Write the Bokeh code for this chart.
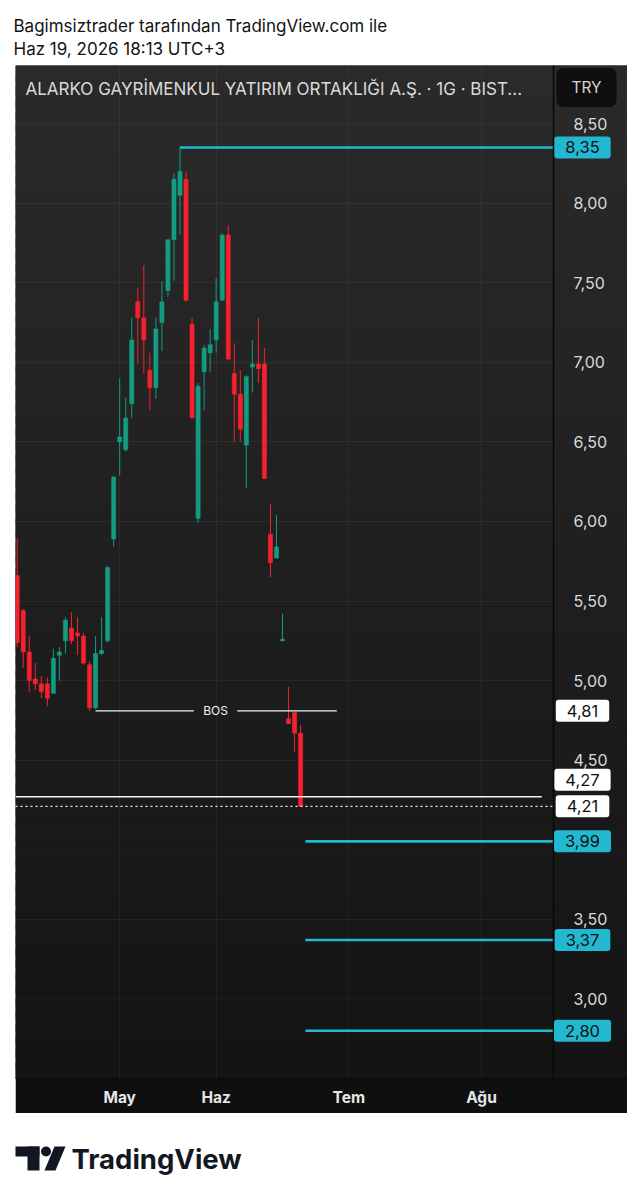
import numpy as np
from bokeh.plotting import figure
from bokeh.models import (Range1d, FixedTicker, Label, BoxAnnotation,
                          ColumnDataSource, CustomJSTickFormatter, Spacer)
from bokeh.layouts import column, row
from bokeh.embed import file_html
from bokeh.resources import INLINE
from bokeh.core.properties import value

# ---------------- data ----------------
opens  = [5.66, 5.44, 5.18, 5.01, 4.98, 4.98, 4.92, 5.16, 5.25, 5.33, 5.30, 5.28,
          5.10, 4.83, 5.17, 5.25, 5.89, 6.50, 6.45, 6.74, 7.38, 7.28, 6.95, 6.84,
          7.25, 7.45, 7.77, 8.05, 8.15, 7.24, 6.02, 6.94, 7.06, 7.14, 7.39, 7.80,
          6.93, 6.80, 6.48, 6.97, 6.99, 6.99, 5.92, 5.77, 5.25, 4.76, 4.80, 4.67]
highs  = [5.89, 5.45, 5.28, 5.11, 5.03, 5.02, 5.20, 5.21, 5.40, 5.43, 5.40, 5.30,
          5.12, 5.28, 5.40, 5.72, 6.28, 6.90, 6.78, 7.28, 7.47, 7.61, 7.06, 7.28,
          7.51, 7.77, 8.19, 8.35, 8.20, 7.28, 6.87, 7.11, 7.21, 7.53, 7.81, 7.86,
          7.12, 6.95, 6.92, 7.14, 7.28, 7.09, 6.11, 6.04, 5.42, 4.96, 4.80, 4.72]
lows   = [5.21, 5.08, 4.93, 4.94, 4.89, 4.84, 4.92, 5.00, 5.17, 5.23, 5.16, 5.10,
          4.81, 4.82, 5.16, 5.24, 5.84, 6.29, 6.44, 6.65, 6.99, 6.93, 6.70, 6.77,
          7.07, 7.41, 7.51, 7.80, 7.38, 6.65, 5.99, 6.70, 6.94, 7.06, 7.39, 7.02,
          6.50, 6.50, 6.21, 6.81, 6.87, 6.27, 5.65, 5.77, 5.25, 4.73, 4.55, 4.21]
closes = [5.24, 5.18, 5.00, 4.98, 4.93, 4.89, 5.14, 5.18, 5.38, 5.25, 5.28, 5.11,
          4.83, 5.17, 5.19, 5.71, 6.28, 6.53, 6.65, 7.14, 7.28, 7.14, 6.84, 7.21,
          7.38, 7.77, 8.15, 8.20, 7.39, 6.65, 6.85, 7.09, 7.11, 7.38, 7.80, 7.02,
          6.80, 6.58, 6.91, 6.99, 6.96, 6.27, 5.74, 5.84, 5.26, 4.73, 4.67, 4.21]

month_idx = [17, 33, 55, 77]
month_labels = ["May", "Haz", "Tem", "Ağu"]
price_ticks = [3.0, 3.5, 4.5, 5.0, 5.5, 6.0, 6.5, 7.0, 7.5, 8.0, 8.5]

bos_level = 4.81
bos_start, bos_end = 13, 53
support_level = 4.27
support_end = 87
target_levels = [3.99, 3.37, 2.80]

title_line1 = "Bagimsiztrader tarafından TradingView.com ile"
title_line2 = "Haz 19, 2026 18:13 UTC+3"
symbol_text = "ALARKO GAYRİMENKUL YATIRIM ORTAKLIĞI A.Ş. · 1G · BIST..."

# ---------------- styles / geometry ----------------
UP = "#139c82"
DOWN = "#f5222d"
CYAN = "#22b8cf"
FONT = "Inter"

BAR_PX = 6.03                      # pixels per bar
FIG_W, FIG_H = 612, 1048
PANE_W = 538                       # chart pane width (price column to its right)
X_START = -0.28
X_END = X_START + FIG_W / BAR_PX
X_SEP = X_START + PANE_W / BAR_PX
Y_BOT, Y_TOP = 2.50, 8.865

idx = list(range(len(opens)))
colors = [UP if c >= o else DOWN for o, c in zip(opens, closes)]
src = ColumnDataSource(dict(
    i=idx, o=opens, h=highs, l=lows, c=closes,
    top=[max(o, c) for o, c in zip(opens, closes)],
    bot=[min(o, c) for o, c in zip(opens, closes)],
    color=colors))

p = figure(width=FIG_W, height=FIG_H, x_range=Range1d(X_START, X_END),
           y_range=Range1d(Y_BOT, Y_TOP), output_backend="svg",
           toolbar_location=None, y_axis_location="right",
           min_border_left=0, min_border_right=0,
           min_border_top=0, min_border_bottom=35)
p.border_fill_color = "#0f0f0f"
p.background_fill_color = "#1f1f1f"
p.outline_line_color = None

# background gradient: pane below the grid, price column above it
N = 80
ys = np.linspace(Y_TOP, Y_BOT, N + 1)
c_top = np.array([43, 43, 43])
c_bot = np.array([20, 20, 20])
step = (Y_TOP - Y_BOT) / N
for k in range(N):
    t = (k + 0.5) / N
    c = (c_top + (c_bot - c_top) * t).astype(int)
    col = "#%02x%02x%02x" % tuple(c)
    top, bot = ys[k] + step * 0.3, ys[k + 1] - step * 0.3
    p.add_layout(BoxAnnotation(left=X_START, right=X_SEP, top=top, bottom=bot,
                               fill_color=col, fill_alpha=1.0, line_color=None, level="image"))
    p.add_layout(BoxAnnotation(left=X_SEP, right=X_END, top=top, bottom=bot,
                               fill_color=col, fill_alpha=1.0, line_color=None, level="underlay"))

# axes
p.xaxis.ticker = FixedTicker(ticks=month_idx)
p.xaxis.major_label_overrides = {m: lab for m, lab in zip(month_idx, month_labels)}
p.xaxis.major_label_text_font = FONT
p.xaxis.major_label_text_font_size = "15.5px"
p.xaxis.major_label_text_font_style = "bold"
p.xaxis.major_label_text_color = "#e6e6e6"
p.xaxis.major_label_standoff = 3
p.xaxis.axis_line_color = "#080808"
p.yaxis.fixed_location = X_SEP
p.yaxis.ticker = FixedTicker(ticks=price_ticks)
p.yaxis.formatter = CustomJSTickFormatter(code="return tick.toFixed(2).replace('.', ',');")
p.yaxis.major_label_text_font = FONT
p.yaxis.major_label_text_font_size = "16px"
p.yaxis.major_label_text_color = "#d9d9d9"
p.yaxis.major_label_standoff = 14
p.yaxis.axis_line_color = "#080808"
p.yaxis.axis_line_width = 1.5
for ax in (p.xaxis, p.yaxis):
    ax.major_tick_line_color = None
    ax.minor_tick_line_color = None
p.grid.grid_line_color = "#ffffff"
p.grid.grid_line_alpha = 0.05

# candles
p.segment(x0="i", y0="h", x1="i", y1="l", line_color="color", line_width=1, source=src)
p.vbar(x="i", width=0.68, top="top", bottom="bot", fill_color="color",
       line_color="color", line_width=0.6, source=src)

# peak line
peak_i = int(np.argmax(highs))
peak = highs[peak_i]
p.segment(x0=[peak_i], y0=[peak], x1=[X_SEP], y1=[peak], line_color=CYAN, line_width=2.6)
# target lines
t_start = idx[-1] + 0.8
p.segment(x0=[t_start] * 3, y0=target_levels, x1=[X_SEP] * 3, y1=target_levels,
          line_color=CYAN, line_width=2.6)
# BOS line with text gap
bos_mid = (bos_start + bos_end) / 2 - 0.1
gap = 3.6
p.segment(x0=[bos_start, bos_mid + gap], y0=[bos_level] * 2, x1=[bos_mid - gap, bos_end],
          y1=[bos_level] * 2, line_color="#f2f2f2", line_width=1.4)
p.text(x=[bos_mid], y=[bos_level], text=["BOS"], text_font=value(FONT), text_font_size="12px",
       text_color="#f2f2f2", text_align="center", text_baseline="middle")
# support line
p.segment(x0=[X_START], y0=[support_level], x1=[support_end], y1=[support_level],
          line_color="#f2f2f2", line_width=1.4)
# last price dotted line
last = closes[-1]
p.segment(x0=[X_START], y0=[last], x1=[X_SEP], y1=[last], line_color="#f2f2f2",
          line_width=1.3, line_dash="2 3")

# price tags (in the price column)
TAG_X = 567
tags = [(peak, CYAN, 0), (bos_level, "#ffffff", 0), (support_level, "#ffffff", 17),
        (last, "#ffffff", 0)]
tags += [(lv, CYAN, 0) for lv in target_levels]
for lv, bg, off in tags:
    p.add_layout(Label(x=TAG_X, y=lv, x_units="screen", text=("%.2f" % lv).replace(".", ","),
                       text_font=FONT, text_font_size="16.5px", text_color="#111111",
                       text_align="center", text_baseline="middle", y_offset=off,
                       background_fill_color=bg, background_fill_alpha=1.0,
                       border_radius=3,
                       padding=dict(left=11, right=11, top=5, bottom=5)))

# symbol legend + currency button
p.add_layout(Label(x=10, y=Y_TOP, x_units="screen", y_offset=-23, text=symbol_text,
                   text_font=FONT, text_font_size="17px", text_color="#dadada",
                   text_align="left", text_baseline="middle"))
p.add_layout(Label(x=571, y=Y_TOP, x_units="screen", y_offset=-22, text="TRY",
                   text_font=FONT, text_font_size="15.5px", text_color="#d6d6d6",
                   text_align="center", text_baseline="middle",
                   background_fill_color="#0f0f0f", background_fill_alpha=1.0, border_radius=7,
                   padding=dict(left=15, right=15, top=10, bottom=10)))

# ---------------- header ----------------
hdr = figure(width=642, height=65, x_range=Range1d(0, 642), y_range=Range1d(65, 0),
             output_backend="svg", toolbar_location=None, x_axis_location=None,
             y_axis_location=None, min_border=0)
hdr.grid.visible = False
hdr.outline_line_color = None
hdr.background_fill_color = "white"
hdr.border_fill_color = "white"
hdr.text(x=[13, 13], y=[25, 48], text=[title_line1, title_line2], text_font=value(FONT),
         text_font_size="17px", text_color="#131313", text_baseline="middle")

# ---------------- footer (logo) ----------------
ftr = figure(width=642, height=86, x_range=Range1d(0, 642), y_range=Range1d(86, 0),
             output_backend="svg", toolbar_location=None, x_axis_location=None,
             y_axis_location=None, min_border=0)
ftr.grid.visible = False
ftr.outline_line_color = None
ftr.background_fill_color = "white"
ftr.border_fill_color = "white"
ftr.quad(left=[15, 27], right=[39, 39], top=[33, 33], bottom=[43, 57], fill_color="#131722",
         line_color=None)
ftr.circle(x=[45.5], y=[38], radius=5, fill_color="#131722", line_color=None)
ftr.patch(x=[54, 65, 55, 44], y=[33, 33, 57, 57], fill_color="#131722", line_color=None)
ftr.text(x=[71], y=[45], text=["TradingView"], text_font=value("Inter"), text_font_size="27.5px",
         text_font_style="bold", text_color="#131722", text_baseline="middle")

layout = column(hdr, row(Spacer(width=15, height=FIG_H), p), ftr)
open("out.html", "w").write(file_html(layout, INLINE))
